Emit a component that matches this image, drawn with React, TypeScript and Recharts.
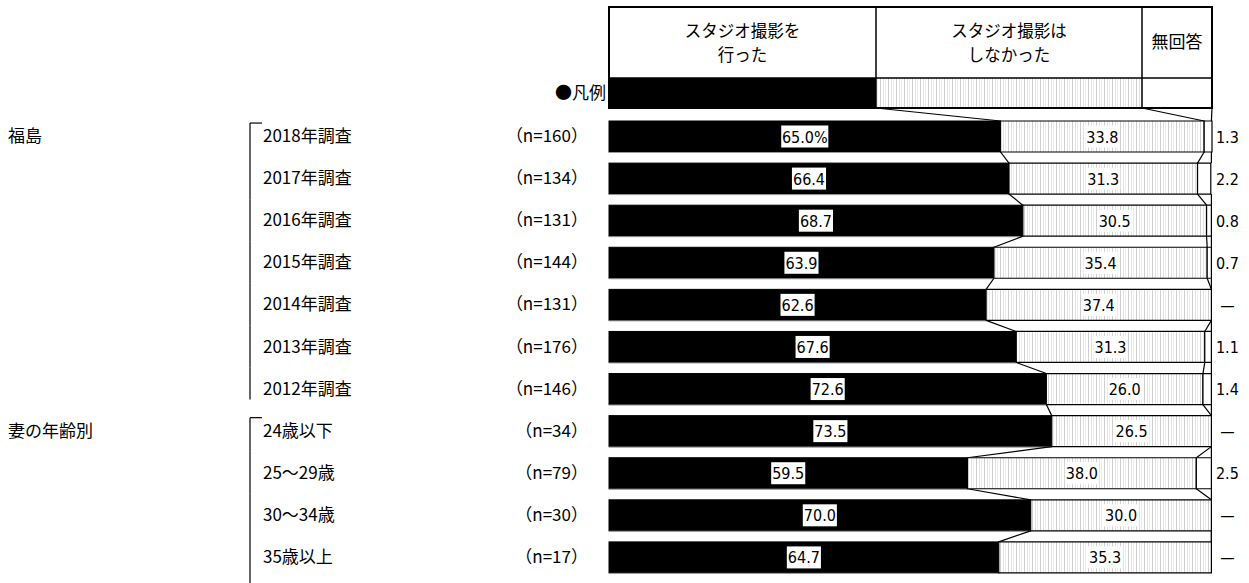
import { Bar, BarChart, LabelList, XAxis, YAxis } from "recharts";

const categories = ["2018年調査", "2017年調査", "2016年調査", "2015年調査", "2014年調査", "2013年調査", "2012年調査", "24歳以下", "25～29歳", "30～34歳", "35歳以上"];
const sampleSizes = ["（n=160）", "（n=134）", "（n=131）", "（n=144）", "（n=131）", "（n=176）", "（n=146）", "（n=34）", "（n=79）", "（n=30）", "（n=17）"];
const didShoot = [65.0, 66.4, 68.7, 63.9, 62.6, 67.6, 72.6, 73.5, 59.5, 70.0, 64.7];
const didNotShoot = [33.8, 31.3, 30.5, 35.4, 37.4, 31.3, 26.0, 26.5, 38.0, 30.0, 35.3];
const noAnswer = [1.3, 2.2, 0.8, 0.7, 0, 1.1, 1.4, 0, 2.5, 0, 0];
const groupLabels = ["福島", "妻の年齢別"];
const groupStarts = [0, 7];
const seriesNames = ["スタジオ撮影を\n行った", "スタジオ撮影は\nしなかった", "無回答"];

// layout
const W = 1249;
const H = 583;
const M = { top: 115, right: 37, bottom: 5, left: 9 };
const PLOT_L = 609;
const PLOT_R = W - M.right;
const ROW = (H - M.top - M.bottom) / categories.length;
const BAR = 31;
const HEAD_TOP = 7;
const HEAD_MID = 78;
const HEAD_BOT = 108;
const COL_SPLIT = [876, 1142];
const JP = '"Noto Sans CJK JP", "Noto Sans", sans-serif';
const NUM = '"DejaVu Sans Condensed", "Liberation Sans Narrow", "Liberation Sans", sans-serif';

const rows = categories.map((name, i) => ({
  name,
  did: didShoot[i],
  didNot: didNotShoot[i],
  na: noAnswer[i],
  didText: i === 0 ? `${didShoot[i].toFixed(1)}%` : didShoot[i].toFixed(1),
  didNotText: didNotShoot[i].toFixed(1),
  naText: noAnswer[i] === 0 ? "—" : noAnswer[i].toFixed(1),
}));

// rough text width for the condensed number font at 16px
const textWidth = (s: string) =>
  s.split("").reduce((w, c) => w + (c === "." ? 4.2 : c === "%" ? 13 : 8.3), 0);

function Hatch({ id }: { id: string }) {
  return (
    <pattern id={id} width={8} height={10} patternUnits="userSpaceOnUse">
      <rect width={8} height={10} fill="#fff" />
      <line x1={0.5} y1={0} x2={0.5} y2={10} stroke="#cfcfcf" />
      <line x1={3.5} y1={0} x2={3.5} y2={10} stroke="#e2e2e2" />
      <line x1={5.5} y1={0} x2={5.5} y2={10} stroke="#ececec" />
    </pattern>
  );
}

function DidShape(props: any) {
  const { x, y, width, height, payload } = props;
  const i = categories.indexOf(payload.name);
  const k = width / payload.did;
  const cum = (r: any) => [r.did, r.did + r.didNot, 100].map((v) => x + v * k);
  const here = cum(payload);
  const lines: any[] = [];
  if (i < rows.length - 1) {
    const next = cum(rows[i + 1]);
    here.forEach((hx, j) => lines.push(<line key={"c" + j} x1={hx} y1={y + height} x2={next[j]} y2={y + ROW} stroke="#000" strokeWidth={1.2} />));
  }
  if (i === 0) {
    const top = [COL_SPLIT[0], COL_SPLIT[1], PLOT_R];
    here.forEach((hx, j) => lines.push(<line key={"t" + j} x1={top[j]} y1={HEAD_BOT} x2={hx} y2={y} stroke="#000" strokeWidth={1.2} />));
  }
  return (
    <g>
      <rect x={x} y={y} width={width} height={height} fill="#000" stroke="#000" />
      <line x1={x} y1={y + height + 0.5} x2={x + width} y2={y + height + 0.5} stroke="#999" />
      {lines}
      <text x={here[2] + 16} y={y + height / 2 + 6} textAnchor="middle" fontSize={16} fontFamily={NUM} fill="#000">{payload.naText}</text>
    </g>
  );
}

function BoxLabel(props: any) {
  const { x, y, width, height, value } = props;
  const cx = x + width / 2;
  const cy = y + height / 2;
  const w = textWidth(String(value)) + 5;
  return (
    <g>
      <rect x={cx - w / 2} y={cy - 11} width={w} height={22} fill="#fff" />
      <text x={cx} y={cy + 6} textAnchor="middle" fontSize={16} fontFamily={NUM} fill="#000">{value}</text>
    </g>
  );
}

function RowTick(props: any) {
  const { y, payload } = props;
  const i = categories.indexOf(payload.value);
  const g = groupStarts.indexOf(i);
  const lastOfGroup = groupStarts.includes(i + 1);
  const top = g >= 0 ? y - 13 : y - ROW / 2;
  const bottom = i === categories.length - 1 ? y + ROW : lastOfGroup ? y + 11 : y + ROW / 2;
  return (
    <g fontFamily={JP} fontSize={17} fill="#000">
      {g >= 0 && <text x={8} y={y + 6}>{groupLabels[g]}</text>}
      <line x1={250} y1={top} x2={250} y2={bottom} stroke="#000" strokeWidth={1.2} />
      {g >= 0 && <line x1={250} y1={top} x2={262} y2={top} stroke="#000" strokeWidth={1.2} />}
      <text x={263} y={y + 6}>{payload.value}</text>
      <text x={588} y={y + 6} textAnchor="end">{sampleSizes[i]}</text>
    </g>
  );
}

function Header() {
  const cols = [PLOT_L, COL_SPLIT[0], COL_SPLIT[1], PLOT_R];
  return (
    <svg width={W} height={H} style={{ position: "absolute", left: 0, top: 0, pointerEvents: "none" }}>
      <defs>
        <Hatch id="hatchHead" />
      </defs>
      <rect x={cols[0]} y={HEAD_MID} width={cols[1] - cols[0]} height={HEAD_BOT - HEAD_MID} fill="#000" />
      <rect x={cols[1]} y={HEAD_MID} width={cols[2] - cols[1]} height={HEAD_BOT - HEAD_MID} fill="url(#hatchHead)" />
      <rect x={cols[0]} y={HEAD_TOP} width={cols[3] - cols[0]} height={HEAD_BOT - HEAD_TOP} fill="none" stroke="#000" strokeWidth={2} />
      <line x1={cols[0]} y1={HEAD_MID} x2={cols[3]} y2={HEAD_MID} stroke="#000" strokeWidth={1.5} />
      <line x1={cols[1]} y1={HEAD_TOP} x2={cols[1]} y2={HEAD_BOT} stroke="#000" strokeWidth={1.5} />
      <line x1={cols[2]} y1={HEAD_TOP} x2={cols[2]} y2={HEAD_BOT} stroke="#000" strokeWidth={1.5} />
      <g fontFamily={JP} fill="#000" textAnchor="middle">
        {seriesNames.map((s, j) => {
          const parts = s.split("\n");
          const cx = (cols[j] + cols[j + 1]) / 2;
          const y0 = parts.length > 1 ? 37 : 48;
          return parts.map((p, n) => (
            <text key={j + "-" + n} x={cx} y={y0 + n * 24} fontSize={parts.length > 1 ? 16.5 : 17}>{p}</text>
          ));
        })}
        <text x={606} y={(HEAD_MID + HEAD_BOT) / 2 + 6} textAnchor="end" fontSize={17}>●凡例</text>
      </g>
    </svg>
  );
}

export default function App() {
  return (
    <div style={{ position: "absolute", left: 0, top: 0, width: W, height: H, background: "#fff" }}>
      <BarChart width={W} height={H} data={rows} layout="vertical" margin={M} barSize={BAR}>
        <defs>
          <Hatch id="hatch" />
        </defs>
        <XAxis type="number" domain={[0, 100]} hide />
        <YAxis type="category" dataKey="name" width={PLOT_L - M.left} axisLine={false} tickLine={false} interval={0} tick={<RowTick />} />
        <Bar dataKey="did" stackId="a" shape={<DidShape />} isAnimationActive={false}>
          <LabelList dataKey="didText" content={<BoxLabel />} />
        </Bar>
        <Bar dataKey="didNot" stackId="a" fill="url(#hatch)" stroke="#000" strokeWidth={1.2} isAnimationActive={false}>
          <LabelList dataKey="didNotText" content={<BoxLabel />} />
        </Bar>
        <Bar dataKey="na" stackId="a" fill="#fff" stroke="#000" strokeWidth={1.2} isAnimationActive={false} />
      </BarChart>
      <Header />
    </div>
  );
}
